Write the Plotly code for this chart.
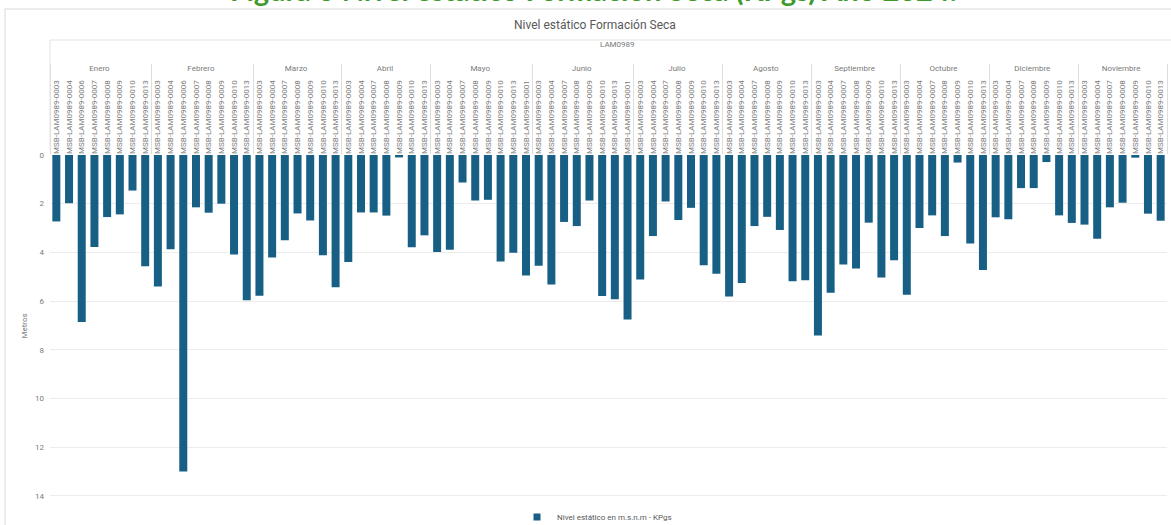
import plotly.graph_objects as go

months = ["Enero", "Febrero", "Marzo", "Abril", "Mayo", "Junio", "Julio",
          "Agosto", "Septiembre", "Octubre", "Diciembre", "Noviembre"]

wells_by_month = {
    "Enero":      ["0003", "0004", "0006", "0007", "0008", "0009", "0010", "0013"],
    "Febrero":    ["0003", "0004", "0006", "0007", "0008", "0009", "0010", "0013"],
    "Marzo":      ["0003", "0004", "0007", "0008", "0009", "0010", "0013"],
    "Abril":      ["0003", "0004", "0007", "0008", "0009", "0010", "0013"],
    "Mayo":       ["0001", "0003", "0004", "0007", "0008", "0009", "0010", "0013"],
    "Junio":      ["0001", "0003", "0004", "0007", "0008", "0009", "0010", "0013"],
    "Julio":      ["0003", "0004", "0007", "0008", "0009", "0010", "0013"],
    "Agosto":     ["0003", "0004", "0007", "0008", "0009", "0010", "0013"],
    "Septiembre": ["0003", "0004", "0007", "0008", "0009", "0010", "0013"],
    "Octubre":    ["0003", "0004", "0007", "0008", "0009", "0010", "0013"],
    "Diciembre":  ["0003", "0004", "0007", "0008", "0009", "0010", "0013"],
    "Noviembre":  ["0003", "0004", "0007", "0008", "0009", "0010", "0013"],
}

values_by_month = {
    "Enero":      [2.73, 1.98, 6.86, 3.78, 2.55, 2.44, 1.46, 4.57],
    "Febrero":    [5.40, 3.87, 13.0, 2.15, 2.37, 2.00, 4.09, 5.97],
    "Marzo":      [5.78, 4.21, 3.50, 2.40, 2.69, 4.12, 5.43],
    "Abril":      [4.40, 2.36, 2.36, 2.49, 0.10, 3.79, 3.30],
    "Mayo":       [4.95, 3.98, 3.89, 1.13, 1.87, 1.84, 4.38, 4.02],
    "Junio":      [6.76, 4.55, 5.32, 2.75, 2.92, 1.87, 5.79, 5.93],
    "Julio":      [5.11, 3.33, 1.91, 2.67, 2.17, 4.53, 4.88],
    "Agosto":     [5.81, 5.26, 2.92, 2.54, 3.08, 5.19, 5.15],
    "Septiembre": [7.42, 5.66, 4.50, 4.66, 2.78, 5.03, 4.32],
    "Octubre":    [5.74, 3.00, 2.48, 3.33, 0.31, 3.64, 4.72],
    "Diciembre":  [2.56, 2.64, 1.36, 1.36, 0.29, 2.48, 2.79],
    "Noviembre":  [2.86, 3.44, 2.15, 1.96, 0.11, 2.41, 2.70],
}

well_prefix = "MSB-LAM0989-"
series_name = "Nivel estático en m.s.n.m - KPgs"
y_ticks = [0, 2, 4, 6, 8, 10, 12, 14]

x_month, x_well, y_vals = [], [], []
for m in months:
    for w, v in zip(wells_by_month[m], values_by_month[m]):
        x_month.append(m)
        x_well.append(well_prefix + w)
        y_vals.append(v)

BAR = "#175f84"
GRAY = "#7a7a7a"
FONT = "Roboto"

fig = go.Figure()
fig.add_trace(go.Bar(
    x=[x_month, x_well], y=y_vals, name=series_name,
    marker=dict(color=BAR, line=dict(width=0)),
    showlegend=False,
))
# legend entry with a small square symbol (no visible point drawn)
fig.add_trace(go.Scatter(
    x=[[x_month[0]], [x_well[0]]], y=[None], name=series_name,
    mode="markers", marker=dict(symbol="square", size=7, color=BAR),
    showlegend=True, hoverinfo="skip",
))

W, H = 1171, 525
L, R, T, B = 50, 4, 155, 28
pw, ph = W - L - R, H - T - B

def px_x(p):
    return (p - L) / pw

def px_y(p):
    return 1 + (T - p) / ph

fig.update_layout(
    width=W, height=H,
    margin=dict(l=L, r=R, t=T, b=B, autoexpand=False),
    paper_bgcolor="white", plot_bgcolor="white",
    font=dict(family=FONT, color=GRAY, size=8),
    bargap=0.37,
    showlegend=True,
    legend=dict(orientation="h", x=px_x(597), xanchor="center",
                y=px_y(517), yanchor="middle",
                font=dict(size=8, color="#595959"),
                itemwidth=30, itemsizing="trace"),
    xaxis=dict(
        type="multicategory", side="top", automargin=False,
        range=[-0.5, len(y_vals) - 0.5],
        tickangle=-90, tickfont=dict(size=8, color=GRAY, family=FONT),
        showdividers=True, dividercolor="#dedede", dividerwidth=1,
        showgrid=False, showline=False, ticks="",
    ),
    yaxis=dict(
        range=[14.05, 0], tickvals=y_ticks, automargin=False,
        tickfont=dict(size=8, color=GRAY),
        ticklabelstandoff=5,
        showgrid=True, gridcolor="#ececec", gridwidth=1,
        zeroline=False, showline=False, ticks="",
        title=dict(text="Metros", font=dict(size=8, color=GRAY), standoff=6),
    ),
    annotations=[
        dict(text="<b>Figura 6 Nivel estático Formación Seca (KPgs) Año 2024.</b>",
             xref="paper", yref="paper", x=px_x(593), y=px_y(9),
             xanchor="center", yanchor="bottom", showarrow=False,
             font=dict(family="Lato", size=29, color="#3d9a2b")),
        dict(text="Nivel estático Formación Seca",
             xref="paper", yref="paper", x=px_x(595), y=px_y(25),
             xanchor="center", yanchor="middle", showarrow=False,
             font=dict(family=FONT, size=12, color="#595959")),
        dict(text="LAM0989",
             xref="paper", yref="paper", x=px_x(617), y=px_y(45),
             xanchor="center", yanchor="middle", showarrow=False,
             font=dict(family=FONT, size=8, color=GRAY)),
    ],
    shapes=[
        dict(type="rect", xref="paper", yref="paper",
             x0=px_x(5), x1=px_x(1185), y0=px_y(540), y1=px_y(9),
             line=dict(color="#d9d9d9", width=1), layer="below"),
        dict(type="line", xref="paper", yref="paper",
             x0=px_x(50), x1=px_x(1171), y0=px_y(40), y1=px_y(40),
             line=dict(color="#e3e3e3", width=1)),
        dict(type="line", xref="paper", yref="paper",
             x0=px_x(50), x1=px_x(50), y0=px_y(40), y1=px_y(150),
             line=dict(color="#e3e3e3", width=1)),
    ],
)

fig.write_html(
    "out.html",
    config={"displayModeBar": False},
    post_script="document.body.style.margin='0';document.body.style.overflow='hidden';",
)
